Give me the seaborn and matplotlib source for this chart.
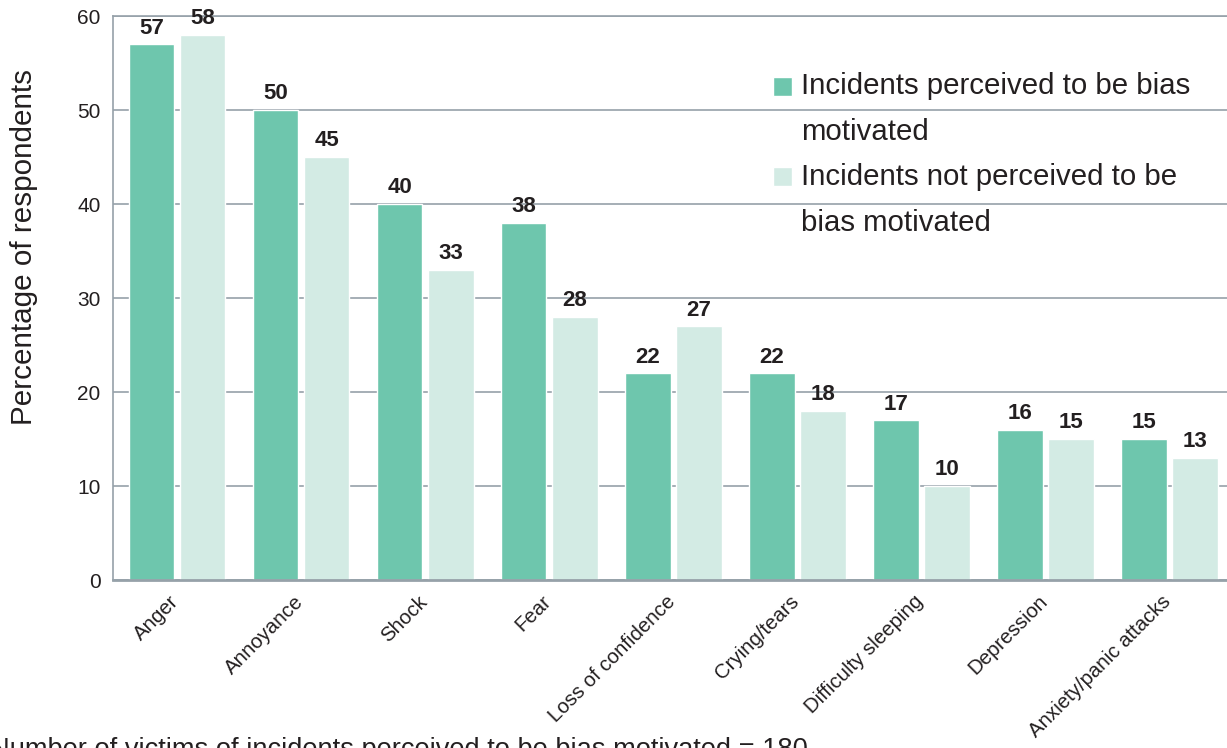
import matplotlib
matplotlib.use("Agg")
import matplotlib.pyplot as plt
import matplotlib.transforms as mtransforms
from matplotlib.patches import Rectangle
from matplotlib.legend_handler import HandlerPatch
import seaborn as sns
import pandas as pd

categories = ["Anger", "Annoyance", "Shock", "Fear", "Loss of confidence",
              "Crying/tears", "Difficulty sleeping", "Depression",
              "Anxiety/panic attacks"]
bias_motivated = [57, 50, 40, 38, 22, 22, 17, 16, 15]
not_bias_motivated = [58, 45, 33, 28, 27, 18, 10, 15, 13]
series_names = ["Incidents perceived to be bias\nmotivated",
                "Incidents not perceived to be\nbias motivated"]
y_ticks = [0, 10, 20, 30, 40, 50, 60]
footnote = "Number of victims of incidents perceived to be bias motivated = 180"

df = pd.DataFrame({
    "category": categories * 2,
    "value": bias_motivated + not_bias_motivated,
    "series": [series_names[0]] * len(categories) + [series_names[1]] * len(categories),
})

sns.set_theme(style="white")
plt.rcParams["font.family"] = ["Liberation Sans", "DejaVu Sans"]

text_col = "#231f20"
grid_col = "#96a1a9"
dark = "#6ec6ad"
light = "#d3ebe4"

fig = plt.figure(figsize=(12.27, 7.48), dpi=100)
ax = fig.add_axes([113 / 1227, 168 / 748, 1 - 113 / 1227 + 0.005, 564 / 748])

sns.barplot(data=df, x="category", y="value", hue="series",
            palette=[dark, light], width=0.823, gap=0.1,
            saturation=1, ax=ax, zorder=2)

ax.set_ylim(0, 60)
ax.set_xlim(-0.516, 8.516)
ax.set_yticks(y_ticks)
ax.set_yticklabels([str(t) for t in y_ticks], fontsize=15, color=text_col)
ax.yaxis.grid(True, color=grid_col, linewidth=1.2, zorder=0)
ax.set_axisbelow(True)
ax.tick_params(axis="y", length=0, pad=9)
ax.tick_params(axis="x", length=0, pad=5)

ax.set_xticks(range(len(categories)))
ax.set_xticklabels(categories, rotation=45, ha="right",
                   rotation_mode="anchor", fontsize=14.7, color=text_col)
# nudge the slanted category names a little down and to the left
shift = mtransforms.ScaledTranslation(-0.075, -0.05, fig.dpi_scale_trans)
for lbl in ax.get_xticklabels():
    lbl.set_transform(lbl.get_transform() + shift)

ax.set_xlabel("")
ax.set_ylabel("Percentage of respondents", fontsize=21.3, color=text_col)
ax.yaxis.set_label_coords(-0.067, 0.591)

for side in ["left", "top", "bottom"]:
    ax.spines[side].set_color(grid_col)
    ax.spines[side].set_linewidth(1.2)
ax.spines["bottom"].set_linewidth(2)
ax.spines["right"].set_visible(False)

for cont in ax.containers:
    ax.bar_label(cont, labels=[f"{v:g}" for v in cont.datavalues],
                 padding=4, fontsize=16, fontweight="bold", color=text_col)


def top_aligned_square(legend, orig_handle, xdescent, ydescent, width, height, fontsize):
    # square swatch lifted to sit beside the first line of a two-line label
    return Rectangle((-xdescent, -ydescent + 17.0), width, height)


leg = ax.legend(loc="upper left", bbox_to_anchor=(0.566, 0.948), frameon=False,
                fontsize=21.2, handlelength=0.62, handleheight=0.62,
                handletextpad=0.3, labelspacing=0.55, labelcolor=text_col,
                handler_map={Rectangle: HandlerPatch(patch_func=top_aligned_square)})
for t in leg.get_texts():
    t.set_linespacing(1.84)

fig.text(-0.008, -0.012, footnote, fontsize=19.6, color=text_col,
         ha="left", va="baseline")

fig.savefig("out.png", dpi=100)
